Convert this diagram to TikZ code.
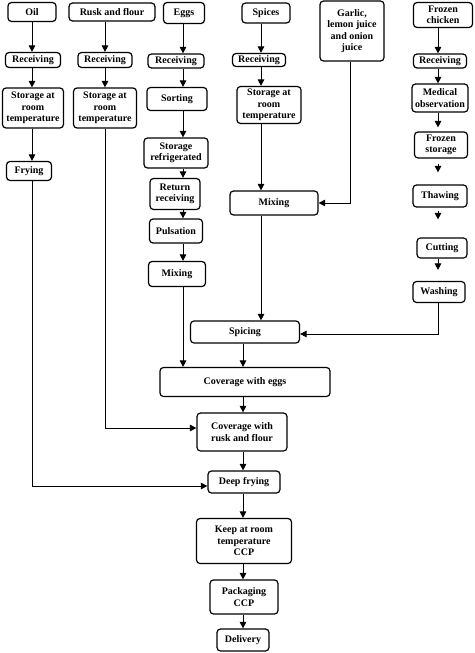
\documentclass[tikz,border=0pt]{standalone}
\usepackage{fontspec}
\setmainfont{Liberation Serif}
\usetikzlibrary{arrows.meta}
\begin{document}
\begin{tikzpicture}[x=1pt,y=-1pt,
  box/.style={draw, line width=1.2pt, rounded corners=3.5pt, align=center, inner sep=0pt,
    font=\fontsize{10}{11.5}\selectfont\bfseries},
  arr/.style={line width=0.9pt, -{Triangle[length=6.5pt,width=6.5pt]}},
  ln/.style={line width=0.9pt}]
\fill[white] (0,0) rectangle (474,653);
\useasboundingbox (0,0) rectangle (474,653);
% column coordinates
\coordinate (cO) at (32,0);
\coordinate (cR) at (105,0);
\coordinate (cE) at (183,0);
\coordinate (cS) at (261,0);
\coordinate (cG) at (350,0);
\coordinate (cC) at (438,0);
\coordinate (cM) at (243,0);
% nodes
\node[box, minimum width=48pt, minimum height=19pt] (oil) at (32,12) {Oil};
\node[box, minimum width=86pt, minimum height=18pt] (rusk) at (112,12) {Rusk and flour};
\node[box, minimum width=41pt, minimum height=21pt] (eggs) at (184,13) {Eggs};
\node[box, minimum width=48pt, minimum height=20pt] (spices) at (266,13) {Spices};
\node[box, minimum width=64pt, minimum height=60pt] (garlic) at (352,31) {Garlic,\\lemon juice\\and onion\\juice};
\node[box, minimum width=59pt, minimum height=25pt] (chicken) at (443,15) {Frozen\\chicken};
\node[box, minimum width=55pt, minimum height=15pt] (recO) at (33,60) {Receiving};
\node[box, minimum width=54pt, minimum height=15pt] (recR) at (105,60) {Receiving};
\node[box, minimum width=56pt, minimum height=14pt] (recE) at (176,61) {Receiving};
\node[box, minimum width=53pt, minimum height=13pt] (recS) at (259,60) {Receiving};
\node[box, minimum width=53pt, minimum height=14pt] (recC) at (440,61) {Receiving};
\node[box, minimum width=61pt, minimum height=40pt] (stO) at (33,108) {Storage at\\room\\temperature};
\node[box, minimum width=63pt, minimum height=40pt] (stR) at (105,108) {Storage at\\room\\temperature};
\node[box, minimum width=60pt, minimum height=23pt] (sort) at (177,99) {Sorting};
\node[box, minimum width=64pt, minimum height=37pt] (stS) at (269,105) {Storage at\\room\\temperature};
\node[box, minimum width=56pt, minimum height=28pt] (med) at (440,98) {Medical\\observation};
\node[box, minimum width=53pt, minimum height=26pt] (fs) at (441,145) {Frozen\\storage};
\node[box, minimum width=45pt, minimum height=19pt] (fry) at (29,171) {Frying};
\node[box, minimum width=64pt, minimum height=30pt] (stRef) at (176,153) {Storage\\refrigerated};
\node[box, minimum width=50pt, minimum height=31pt] (ret) at (175,194) {Return\\receiving};
\node[box, minimum width=54pt, minimum height=22pt] (thaw) at (440,196) {Thawing};
\node[box, minimum width=88pt, minimum height=24pt] (mixS) at (274,203) {Mixing};
\node[box, minimum width=53pt, minimum height=24pt] (puls) at (176,231) {Pulsation};
\node[box, minimum width=50pt, minimum height=20pt] (cut) at (442,248) {Cutting};
\node[box, minimum width=57pt, minimum height=25pt] (mixE) at (177,274) {Mixing};
\node[box, minimum width=52pt, minimum height=21pt] (wash) at (439,292) {Washing};
\node[box, minimum width=109pt, minimum height=22pt] (spic) at (245,332) {Spicing};
\node[box, minimum width=170pt, minimum height=29pt] (covE) at (245,382) {Coverage with eggs};
\node[box, minimum width=90pt, minimum height=38pt] (covR) at (242,432) {Coverage with\\rusk and flour};
\node[box, minimum width=72pt, minimum height=22pt] (deep) at (244,482) {Deep frying};
\node[box, minimum width=95pt, minimum height=45pt] (keep) at (244,541) {Keep at room\\temperature\\CCP};
\node[box, minimum width=68pt, minimum height=34pt] (pack) at (244,597) {Packaging\\CCP};
\node[box, minimum width=52pt, minimum height=22pt] (del) at (243,640) {Delivery};
% oil column
\draw[arr] (oil.south -| cO) -- (recO.north -| cO);
\draw[arr] (recO.south -| cO) -- (stO.north -| cO);
\draw[arr] (stO.south -| cO) -- (fry.north -| cO);
\draw[arr] (fry.south -| cO) |- ([yshift=-4pt]deep.west);
% rusk column
\draw[arr] (rusk.south -| cR) -- (recR.north -| cR);
\draw[arr] (recR.south -| cR) -- (stR.north -| cR);
\draw[arr] (stR.south -| cR) |- ([yshift=4pt]covR.west);
% eggs column
\draw[arr] (eggs.south -| cE) -- (recE.north -| cE);
\draw[arr] (recE.south -| cE) -- (sort.north -| cE);
\draw[arr] (sort.south -| cE) -- (stRef.north -| cE);
\draw[arr] (stRef.south -| cE) -- (ret.north -| cE);
\draw[arr] (ret.south -| cE) -- (puls.north -| cE);
\draw[arr] (puls.south -| cE) -- (mixE.north -| cE);
\draw[arr] (mixE.south -| cE) -- (covE.north -| cE);
% spices column
\draw[arr] (spices.south -| cS) -- (recS.north -| cS);
\draw[arr] (recS.south -| cS) -- (stS.north -| cS);
\draw[arr] (stS.south -| cS) -- (mixS.north -| cS);
\draw[arr] (garlic.south -| cG) |- (mixS.east);
\draw[arr] (mixS.south -| cS) -- (spic.north -| cS);
% chicken column
\draw[arr] (chicken.south -| cC) -- (recC.north -| cC);
\draw[arr] (recC.south -| cC) -- (med.north -| cC);
\draw[arr, shorten >=4pt] (med.south -| cC) -- (fs.north -| cC);
\draw[arr, shorten <=5pt, shorten >=12pt] (fs.south -| cC) -- (thaw.north -| cC);
\draw[arr, shorten <=3pt, shorten >=18pt] (thaw.south -| cC) -- (cut.north -| cC);
\draw[arr, shorten >=11pt] (cut.south -| cC) -- (wash.north -| cC);
\draw[arr] (wash.south -| cC) |- ([yshift=-2pt]spic.east);
% center column
\draw[arr] (spic.south -| cM) -- (covE.north -| cM);
\draw[arr] (covE.south -| cM) -- (covR.north -| cM);
\draw[arr] (covR.south -| cM) -- (deep.north -| cM);
\draw[arr] (deep.south -| cM) -- (keep.north -| cM);
\draw[arr] (keep.south -| cM) -- (pack.north -| cM);
\draw[arr] (pack.south -| cM) -- (del.north -| cM);
\end{tikzpicture}
\end{document}
